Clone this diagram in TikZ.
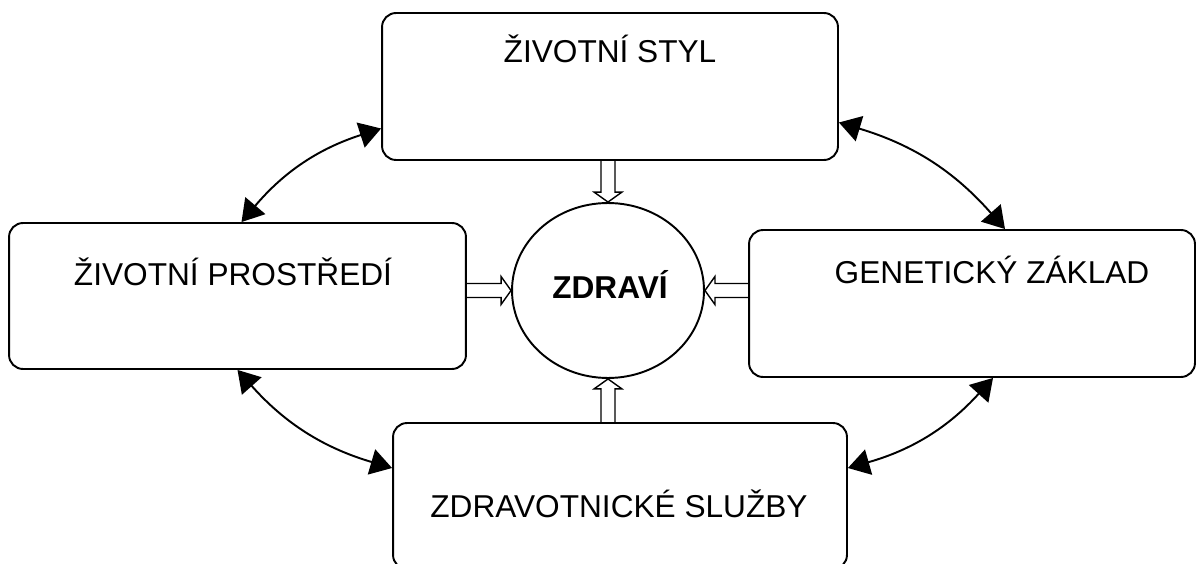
\documentclass[tikz,border=0pt]{standalone}
\usepackage{fontspec}
\setmainfont{Liberation Sans}
\usetikzlibrary{shapes.geometric}
\usetikzlibrary{arrows.meta, calc}

\begin{document}
\begin{tikzpicture}[x=0.02cm, y=-0.02cm,
    every node/.style={font=\fontsize{18}{22}\selectfont},
    box/.style={draw, rounded corners=0.28cm, line width=1.1pt, inner sep=0pt},
    txt/.style={anchor=base, inner sep=0pt},
    link/.style={line width=1.1pt, bend left=16,
        {Triangle[length=0.43cm,width=0.52cm]}-{Triangle[length=0.43cm,width=0.52cm]}},
    hollow/.style={line width=0.8pt, to path={
        let \p1=($(\tikztotarget)!0.2cm!(\tikztostart)$) in
        ($(\tikztostart)!0.14cm!90:(\tikztotarget)$) -- ($(\p1)!0.14cm!90:(\tikztotarget)$)
        -- ($(\p1)!0.28cm!90:(\tikztotarget)$) -- (\tikztotarget)
        -- ($(\p1)!0.28cm!-90:(\tikztotarget)$) -- ($(\p1)!0.14cm!-90:(\tikztotarget)$)
        -- ($(\tikztostart)!0.14cm!-90:(\tikztotarget)$)}}]
    \useasboundingbox (0,0) rectangle (1196,564);
    \clip (0,0) rectangle (1196,564);

    \node[box, minimum width=9.12cm, minimum height=2.94cm] (styl) at (610,86.5) {};
    \node[box, minimum width=9.14cm, minimum height=2.92cm] (prostredi) at (237.5,296) {};
    \node[box, minimum width=8.92cm, minimum height=2.94cm] (zaklad) at (972,303.5) {};
    \node[box, minimum width=9.08cm, minimum height=2.92cm] (sluzby) at (620,496) {};
    \node[draw, ellipse, line width=1.1pt, inner sep=0pt,
        minimum width=3.84cm, minimum height=3.5cm] (zd) at (608,290.5) {};

    \node[txt] (styl-t) at (610,63) {ŽIVOTNÍ STYL};
    \node[txt] (prostredi-t) at (233,285) {ŽIVOTNÍ PROSTŘEDÍ};
    \node[txt] (zaklad-t) at (992,283) {GENETICKÝ ZÁKLAD};
    \node[txt] (sluzby-t) at (619,517) {ZDRAVOTNICKÉ SLUŽBY};
    \node[txt, font=\fontsize{18}{22}\selectfont\bfseries] (zd-t) at (610,298) {ZDRAVÍ};

    % vlivy na zdravi
    \draw[hollow] (styl.south -| zd.north) to (zd.north);
    \draw[hollow] (prostredi.east |- zd.west) to (zd.west);
    \draw[hollow] (zaklad.west |- zd.east) to (zd.east);
    \draw[hollow] (sluzby.north -| zd.south) to (zd.south);

    % vzajemne vazby
    \draw[link] ($(prostredi.north)+(4,0)$) to ($(styl.west)+(0,42)$);
    \draw[link] ($(styl.east)+(0,36)$) to ($(zaklad.north)+(33,0)$);
    \draw[link] ($(zaklad.south)+(21,0)$) to ($(sluzby.east)+(0,-28)$);
    \draw[link] ($(sluzby.west)+(0,-28)$) to (prostredi.south);
\end{tikzpicture}
\end{document}
